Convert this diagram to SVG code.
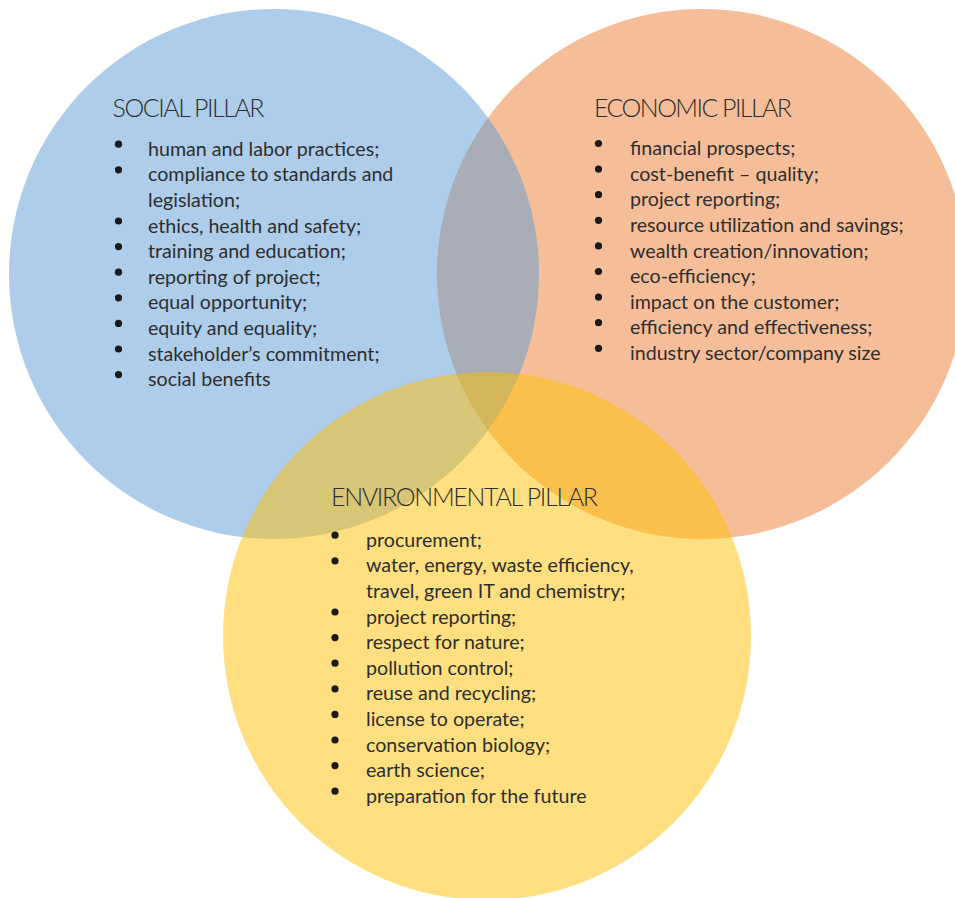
<svg xmlns="http://www.w3.org/2000/svg" width="955" height="898" viewBox="0 0 955 898">
<style>
  .c { stroke: none; opacity: 0.5; }
  .t { font-family: Lato, "Open Sans", "Liberation Sans", sans-serif; fill: #2e2e2e; }
  .title { font-size: 25px; font-weight: 300; }
  .item { font-size: 19.65px; }
  .b { fill: #1a1a1a; }
</style>
<rect width="955" height="898" fill="#ffffff"/>
<g id="economic">
  <circle class="c" cx="702" cy="274" r="265" fill="#ED7D31"/>
  <text class="t title" x="594" y="116.5" textLength="198">ECONOMIC PILLAR</text>
  <g class="t item">
    <text x="630" y="155">financial prospects;</text>
    <text x="630" y="180.7">cost-benefit – quality;</text>
    <text x="630" y="206.3">project reporting;</text>
    <text x="630" y="231.9">resource utilization and savings;</text>
    <text x="630" y="257.5">wealth creation/innovation;</text>
    <text x="630" y="283.1">eco-efficiency;</text>
    <text x="630" y="308.7">impact on the customer;</text>
    <text x="630" y="334.3">efficiency and effectiveness;</text>
    <text x="630" y="359.9">industry sector/company size</text>
  </g>
  <g class="b">
    <circle cx="598.5" cy="143.5" r="3.6"/>
    <circle cx="598.5" cy="169.1" r="3.6"/>
    <circle cx="598.5" cy="194.7" r="3.6"/>
    <circle cx="598.5" cy="220.3" r="3.6"/>
    <circle cx="598.5" cy="245.9" r="3.6"/>
    <circle cx="598.5" cy="271.5" r="3.6"/>
    <circle cx="598.5" cy="297.1" r="3.6"/>
    <circle cx="598.5" cy="322.7" r="3.6"/>
    <circle cx="598.5" cy="348.3" r="3.6"/>
  </g>
</g>
<g id="social">
  <circle class="c" cx="274" cy="274" r="265" fill="#5B9BD5"/>
  <text class="t title" x="112.5" y="116.5" textLength="152">SOCIAL PILLAR</text>
  <g class="t item">
    <text x="148" y="155.7">human and labor practices;</text>
    <text x="148" y="181.3">compliance to standards and</text>
    <text x="148" y="206.9">legislation;</text>
    <text x="148" y="232.5">ethics, health and safety;</text>
    <text x="148" y="258.1">training and education;</text>
    <text x="148" y="283.7">reporting of project;</text>
    <text x="148" y="309.3">equal opportunity;</text>
    <text x="148" y="334.9">equity and equality;</text>
    <text x="148" y="360.5">stakeholder’s commitment;</text>
    <text x="148" y="386.1">social benefits</text>
  </g>
  <g class="b">
    <circle cx="118.5" cy="144.2" r="3.6"/>
    <circle cx="118.5" cy="169.8" r="3.6"/>
    <circle cx="118.5" cy="221" r="3.6"/>
    <circle cx="118.5" cy="246.6" r="3.6"/>
    <circle cx="118.5" cy="272.2" r="3.6"/>
    <circle cx="118.5" cy="297.8" r="3.6"/>
    <circle cx="118.5" cy="323.4" r="3.6"/>
    <circle cx="118.5" cy="349" r="3.6"/>
    <circle cx="118.5" cy="374.6" r="3.6"/>
  </g>
</g>
<g id="environmental">
  <circle class="c" cx="487" cy="636" r="264" fill="#FFC000"/>
  <text class="t title" x="331" y="506" textLength="267">ENVIRONMENTAL PILLAR</text>
  <g class="t item">
    <text x="366" y="546.7">procurement;</text>
    <text x="366" y="572.3">water, energy, waste efficiency,</text>
    <text x="366" y="597.9">travel, green IT and chemistry;</text>
    <text x="366" y="623.5">project reporting;</text>
    <text x="366" y="649.1">respect for nature;</text>
    <text x="366" y="674.7">pollution control;</text>
    <text x="366" y="700.3">reuse and recycling;</text>
    <text x="366" y="725.9">license to operate;</text>
    <text x="366" y="751.5">conservation biology;</text>
    <text x="366" y="777.1">earth science;</text>
    <text x="366" y="802.7">preparation for the future</text>
  </g>
  <g class="b">
    <circle cx="335" cy="535.2" r="3.6"/>
    <circle cx="335" cy="560.8" r="3.6"/>
    <circle cx="335" cy="612" r="3.6"/>
    <circle cx="335" cy="637.6" r="3.6"/>
    <circle cx="335" cy="663.2" r="3.6"/>
    <circle cx="335" cy="688.8" r="3.6"/>
    <circle cx="335" cy="714.4" r="3.6"/>
    <circle cx="335" cy="740" r="3.6"/>
    <circle cx="335" cy="765.6" r="3.6"/>
    <circle cx="335" cy="791.2" r="3.6"/>
  </g>
</g>
<g id="connectors"></g>
</svg>
